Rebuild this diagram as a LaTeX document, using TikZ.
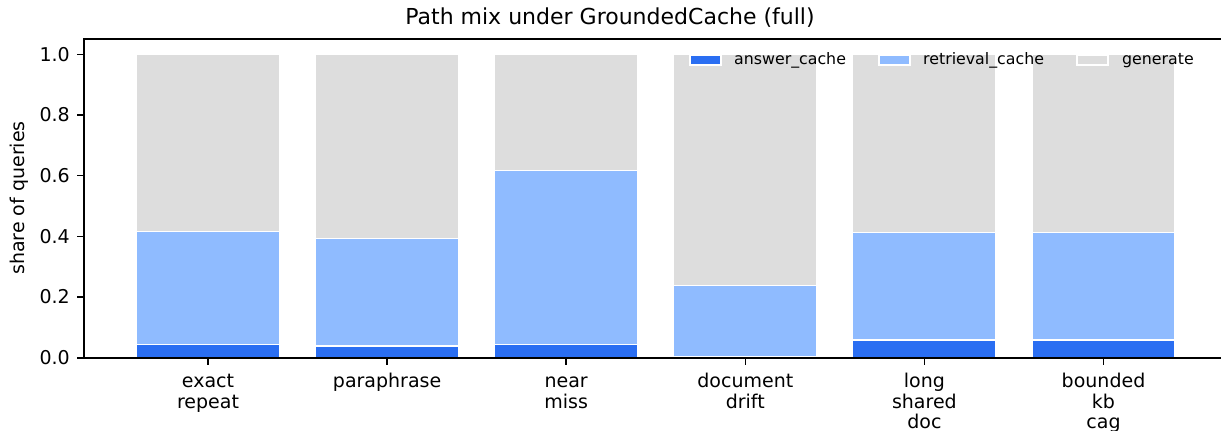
\documentclass[tikz,border=0pt]{standalone}
\usepackage{fontspec}
\setmainfont{DejaVu Sans}
\definecolor{ans}{HTML}{2A6EF2}
\definecolor{ret}{HTML}{8FBBFF}
\definecolor{gen}{HTML}{DDDDDD}
\begin{document}
\begin{tikzpicture}[x=1pt,y=-1pt,
  barseg/.style={draw=white,line width=1.3pt},
  spine/.style={line width=1.6pt,line cap=rect},
  tickmark/.style={line width=1.6pt},
  ticklab/.style={font=\fontsize{19}{20.5}\selectfont,inner sep=0pt,align=center},
  leglab/.style={font=\fontsize{15.8}{17}\selectfont,inner sep=0pt,anchor=west},
  legpatch/.style={draw=white,line width=1.3pt}]
\useasboundingbox (0,0) rectangle (1221,431);
% bars
\foreach \i/\a/\r in {0/0.043/0.415,1/0.039/0.393,2/0.043/0.617,3/0.005/0.238,4/0.058/0.413,5/0.058/0.413}{
  \pgfmathsetmacro{\xc}{208+179.1*\i}
  \pgfmathsetmacro{\xl}{\xc-71.6}
  \pgfmathsetmacro{\xr}{\xc+71.6}
  \pgfmathsetmacro{\ya}{357.7-303.4*\a}
  \pgfmathsetmacro{\yr}{357.7-303.4*\r}
  \pgfmathsetmacro{\yt}{357.7-303.4}
  \filldraw[barseg,fill=ans] (\xl,357.7) rectangle (\xr,\ya);
  \filldraw[barseg,fill=ret] (\xl,\ya) rectangle (\xr,\yr);
  \filldraw[barseg,fill=gen] (\xl,\yr) rectangle (\xr,\yt);
}
% spines
\coordinate (tl) at (84,39);
\coordinate (bl) at (84,357.7);
\coordinate (tr) at (1222,39);
\coordinate (br) at (1222,357.7);
\draw[spine] (tr) -- (tl) -- (bl) -- (br);
% y ticks
\foreach \v/\t [count=\k] in {0/0.0,0.2/0.2,0.4/0.4,0.6/0.6,0.8/0.8,1/1.0}{
  \pgfmathsetmacro{\yy}{357.7-303.4*\v}
  \coordinate (yt\k) at (84,\yy);
  \draw[tickmark] (yt\k) -- ++(-7,0);
  \node[ticklab,anchor=east] (yl\k) at (70,\yy) {\t};
}
% x ticks
\foreach \i/\t in {0/{exact\\repeat},1/{paraphrase},2/{near\\miss},3/{document\\drift},4/{long\\shared\\doc},5/{bounded\\kb\\cag}}{
  \pgfmathsetmacro{\xc}{208+179.1*\i}
  \coordinate (xt\i) at (\xc,357.7);
  \draw[tickmark] (xt\i) -- ++(0,7);
  \node[ticklab,anchor=north] (xl\i) at (\xc,373) {\vphantom{bd}\t};
}
% axis label
\node[font=\fontsize{19}{20}\selectfont,rotate=90,inner sep=0pt] (ylab) at (19,198) {share of queries};
% title
\node[font=\fontsize{22}{24}\selectfont,inner sep=0pt] (title) at (610,18) {Path mix under GroundedCache (full)};
% legend
\filldraw[legpatch,fill=ans] (690,55.7) rectangle (721,65);
\node[leglab] (lg1) at (734,60.3) {answer\_cache};
\filldraw[legpatch,fill=ret] (879,55.7) rectangle (910,65);
\node[leglab] (lg2) at (923,60.3) {retrieval\_cache};
\filldraw[legpatch,fill=gen] (1077,55.7) rectangle (1108,65);
\node[leglab] (lg3) at (1122,60.3) {generate};
\end{tikzpicture}
\end{document}
